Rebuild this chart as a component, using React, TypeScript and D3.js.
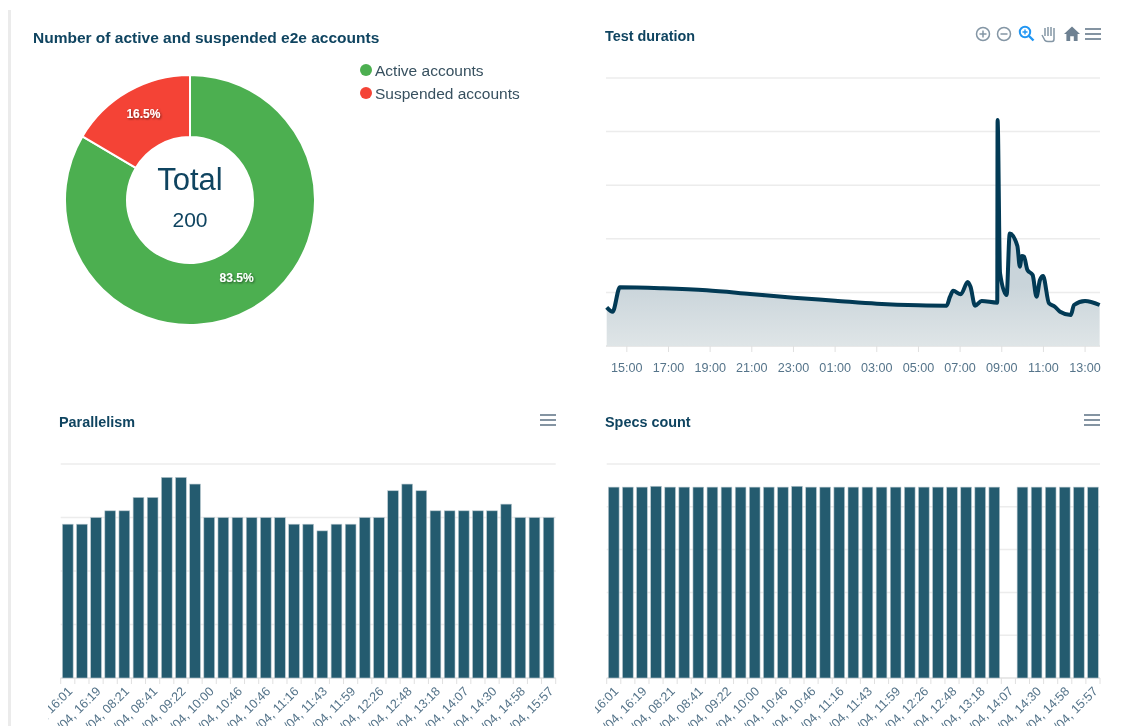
import React from "react";
import * as d3 from "d3";

const accountNames = ["Active accounts", "Suspended accounts"];
const accountCounts = [167, 33];
const accountColors = ["#4caf50", "#f44336"];

const testTimes = [
  "15/04 14:02", "15/04 14:19", "15/04 14:40", "15/04 16:44", "15/04 18:50", "15/04 20:55", "15/04 23:00",
  "16/04 01:00", "16/04 03:00", "16/04 05:00", "16/04 06:21", "16/04 06:31", "16/04 06:40", "16/04 07:02",
  "16/04 07:22", "16/04 07:30", "16/04 07:43", "16/04 08:02", "16/04 08:47", "16/04 08:48", "16/04 08:55",
  "16/04 09:14", "16/04 09:23", "16/04 09:45", "16/04 09:52", "16/04 09:58", "16/04 10:04", "16/04 10:14",
  "16/04 10:29", "16/04 10:40", "16/04 10:50", "16/04 10:59", "16/04 11:16", "16/04 11:33", "16/04 11:48",
  "16/04 12:19", "16/04 12:28", "16/04 13:00", "16/04 13:42",
];
const testDurations = [
  7.2, 6.4, 10.95, 10.76, 10.39, 9.7, 9.0, 8.45, 7.89, 7.59, 7.52, 9.2, 10.3, 9.65, 11.94, 11.06, 7.52, 8.4,
  8.08, 42.16, 13.62, 9.5, 21.0, 18.66, 14.8, 16.8, 16.66, 14.18, 13.25, 9.2, 12.3, 13.06, 7.97, 7.33, 6.4,
  5.78, 7.65, 8.4, 7.65,
];

const parallelism = [
  23, 23, 24, 25, 25, 27, 27, 30, 30, 29, 24, 24, 24, 24, 24, 24, 23, 23, 22, 23, 23, 24, 24, 28, 29, 28, 25,
  25, 25, 25, 25, 26, 24, 24, 24,
];
const specsCount = [
  223, 223, 223, 224, 223, 223, 223, 223, 223, 223, 223, 223, 223, 224, 223, 223, 223, 223, 223, 223, 223, 223,
  223, 223, 223, 223, 223, 223, 0, 223, 223, 223, 223, 223, 223,
];
// every second bar has a label
const runLabels = [
  "15/04, 16:01", "15/04, 16:19", "16/04, 08:21", "16/04, 08:41", "16/04, 09:22", "16/04, 10:00",
  "16/04, 10:46", "16/04, 10:46", "16/04, 11:16", "16/04, 11:43", "16/04, 11:59", "16/04, 12:26",
  "16/04, 12:48", "16/04, 13:18", "16/04, 14:07", "16/04, 14:30", "16/04, 14:58", "16/04, 15:57",
];

const FONT = "'Liberation Sans', Arial, sans-serif";
const NAVY = "#0f4460";
const LINE = "#023a55";
const BAR = "#245b6f";
const GRID = "#ececec";
const AXIS = "#e0e0e0";
const LABEL = "#55748a";
const ICON = "#6e8192";

const parseTime = d3.timeParse("%d/%m %H:%M");
const hourFmt = d3.timeFormat("%H:%M");

const MenuIcon = ({ x, y }: { x: number; y: number }) => (
  <g transform={`translate(${x},${y})`} stroke={ICON} strokeWidth={1.7}>
    <line x1={-8} x2={8} y1={-5} y2={-5} />
    <line x1={-8} x2={8} y1={0} y2={0} />
    <line x1={-8} x2={8} y1={5} y2={5} />
  </g>
);

const Toolbar = () => (
  <g>
    <g fill="none" stroke="#8496a5" strokeWidth={1.5}>
      <circle cx={983} cy={34} r={6.5} />
      <path d="M979.5 34h7M983 30.5v7" />
      <circle cx={1004} cy={34} r={6.5} />
      <path d="M1000.5 34h7" />
    </g>
    <g fill="none" stroke="#2196f3" strokeWidth={2}>
      <circle cx={1025} cy={32} r={5.2} />
      <path d="M1029 36l4.5 4.5" strokeWidth={2.4} />
      <path d="M1022.5 32h5M1025 29.5v5" strokeWidth={1.4} />
    </g>
    <path
      d="M1042 35l3 5.5q1 1 3 1h4q2 0 2-2.500v-11M1045 36v-8M1048 36v-9M1051 36v-9M1054 36v-7"
      fill="none"
      stroke="#8496a5"
      strokeWidth={1.5}
    />
    <path d="M1072 26.500l-8 7.500h2.400v7h3.800v-4.800h3.600v4.800h3.800v-7h2.400z" fill={ICON} />
    <MenuIcon x={1093} y={34} />
  </g>
);

function Donut() {
  const cx = 190;
  const cy = 200;
  const pie = d3.pie<number>().sort(null)(accountCounts);
  const arc = d3.arc<d3.PieArcDatum<number>>().innerRadius(63).outerRadius(125);
  const total = d3.sum(accountCounts);
  return (
    <g>
      <text x={33} y={43} fontFamily={FONT} fontWeight={700} fontSize={15.5} fill={NAVY}>
        Number of active and suspended e2e accounts
      </text>
      <g transform={`translate(${cx},${cy})`}>
        {pie.map((d, i) => (
          <path key={i} d={arc(d) as string} fill={accountColors[i]} stroke="#fff" strokeWidth={2} />
        ))}
        {pie.map((d, i) => {
          const [px, py] = arc.centroid(d);
          return (
            <text
              key={i}
              x={px}
              y={py}
              textAnchor="middle"
              fontFamily={FONT}
              fontWeight={700}
              fontSize={12}
              fill="#fff"
              filter="url(#labelShadow)"
            >
              {((d.value / total) * 100).toFixed(1)}%
            </text>
          );
        })}
        <text y={-10} textAnchor="middle" fontFamily={FONT} fontSize={31} fill={NAVY}>
          Total
        </text>
        <text y={27} textAnchor="middle" fontFamily={FONT} fontSize={21} fill={NAVY}>
          {total}
        </text>
      </g>
      {accountNames.map((name, i) => (
        <g key={name} transform={`translate(366,${70 + i * 23})`}>
          <circle r={6} fill={accountColors[i]} />
          <text x={9} y={5.500} fontFamily={FONT} fontSize={15.5} fill="#37505f">
            {name}
          </text>
        </g>
      ))}
    </g>
  );
}

function DurationChart() {
  const left = 606;
  const right = 1100;
  const top = 78;
  const bottom = 346;
  const times = testTimes.map((t) => parseTime(t) as Date);
  const x = d3
    .scaleTime()
    .domain([parseTime("15/04 14:00") as Date, parseTime("16/04 13:43") as Date])
    .range([left, right]);
  const y = d3.scaleLinear().domain([0, 50]).range([bottom, top]);
  const idx = d3.range(times.length);
  const line = d3
    .line<number>()
    .x((i) => x(times[i]))
    .y((i) => y(testDurations[i]))
    .curve(d3.curveMonotoneX);
  const area = d3
    .area<number>()
    .x((i) => x(times[i]))
    .y0(bottom)
    .y1((i) => y(testDurations[i]))
    .curve(d3.curveMonotoneX);
  const ticks = d3.timeHour.range(parseTime("15/04 15:00") as Date, x.domain()[1], 2);
  return (
    <g>
      <text x={605} y={41} fontFamily={FONT} fontWeight={700} fontSize={14.4} fill={NAVY}>
        Test duration
      </text>
      <Toolbar />
      {y.ticks(5).map((t) => (
        <line key={t} x1={left} x2={right} y1={y(t)} y2={y(t)} stroke={t === 0 ? AXIS : GRID} strokeWidth={1.5} />
      ))}
      <path d={area(idx) as string} fill="url(#durationFill)" />
      <path d={line(idx) as string} fill="none" stroke={LINE} strokeWidth={4} strokeLinejoin="round" />
      {ticks.map((t) => (
        <g key={+t} transform={`translate(${x(t)},${bottom})`}>
          <line y1={0} y2={6} stroke={AXIS} />
          <text y={25.5} textAnchor="middle" fontFamily={FONT} fontSize={12.6} fill={LABEL}>
            {hourFmt(t)}
          </text>
        </g>
      ))}
    </g>
  );
}

function BarPanel(props: {
  title: string;
  values: number[];
  yMax: number;
  gridCount: number;
  left: number;
  right: number;
  titleX: number;
  clipId: string;
}) {
  const { title, values, yMax, gridCount, left, right, titleX, clipId } = props;
  const top = 464;
  const bottom = 678;
  const x = d3.scaleBand<number>().domain(d3.range(values.length)).range([left, right]).paddingInner(0.24).paddingOuter(0.12);
  const y = d3.scaleLinear().domain([0, yMax]).range([bottom, top]);
  const step = x.step();
  const edges = d3.range(values.length + 1).map((i) => left + i * step);
  return (
    <g>
      <text x={titleX} y={427} fontFamily={FONT} fontWeight={700} fontSize={14.4} fill={NAVY}>
        {title}
      </text>
      <MenuIcon x={Math.round(right) - 8} y={420} />
      {d3.range(gridCount + 1).map((i) => {
        const gy = y((yMax / gridCount) * i);
        return <line key={i} x1={left} x2={right} y1={gy} y2={gy} stroke={i === 0 ? AXIS : GRID} strokeWidth={1.5} />;
      })}
      {values.map((v, i) => (
        <rect
          key={i}
          x={x(i)}
          y={y(v)}
          width={x.bandwidth()}
          height={bottom - y(v)}
          fill={BAR}
          stroke="#b9c8cf"
          strokeWidth={v > 0 ? 0.6 : 0}
        />
      ))}
      {edges.map((ex, i) => (
        <line key={i} x1={ex} x2={ex} y1={bottom} y2={bottom + 6} stroke={AXIS} />
      ))}
      <g clipPath={`url(#${clipId})`}>
        {runLabels.map((label, i) => {
          const lx = (x(i * 2) as number) + x.bandwidth() / 2 + 5.5;
          return (
            <text
              key={i}
              transform={`translate(${lx},${bottom + 14}) rotate(-45)`}
              textAnchor="end"
              fontFamily={FONT}
              fontSize={12.6}
              fill={LABEL}
            >
              {label}
            </text>
          );
        })}
      </g>
    </g>
  );
}

export default function App() {
  return (
    <svg
      width={1132}
      height={726}
      style={{ position: "absolute", left: 0, top: 0, background: "#fff", filter: "blur(0.4px)" }}
    >
      <defs>
        <linearGradient id="durationFill" gradientUnits="userSpaceOnUse" x1="0" y1="285" x2="0" y2="346">
          <stop offset="0%" stopColor="#c9d4da" />
          <stop offset="100%" stopColor="#dfe5e7" />
        </linearGradient>
        <filter id="labelShadow" x="-30%" y="-50%" width="160%" height="200%">
          <feDropShadow dx={1} dy={1} stdDeviation={1} floodColor="#000" floodOpacity={0.55} />
        </filter>
        <clipPath id="clipLeft">
          <rect x={48} y={678} width={520} height={48} />
        </clipPath>
        <clipPath id="clipRight">
          <rect x={595} y={678} width={520} height={48} />
        </clipPath>
      </defs>
      <rect x={8} y={10} width={3} height={716} fill="#ebebeb" />
      <Donut />
      <DurationChart />
      <BarPanel title="Parallelism" values={parallelism} yMax={32} gridCount={4} left={60.7} right={555.7} titleX={59} clipId="clipLeft" />
      <BarPanel title="Specs count" values={specsCount} yMax={250} gridCount={5} left={606.7} right={1100} titleX={605} clipId="clipRight" />
    </svg>
  );
}
